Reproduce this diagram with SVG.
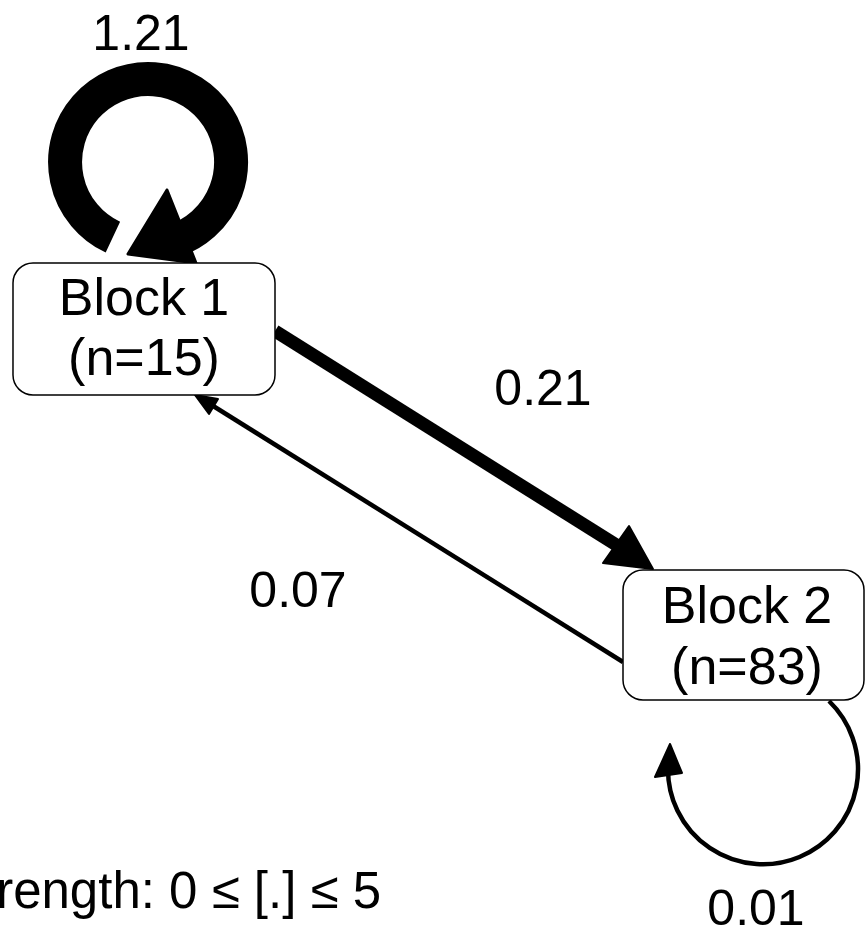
<svg xmlns="http://www.w3.org/2000/svg" width="865" height="935" viewBox="0 0 865 935">
<style>
.t{font-family:"Liberation Sans",Arial,sans-serif;font-size:52px;fill:#000;text-anchor:middle}
.lbl{font-family:"Liberation Sans",Arial,sans-serif;font-size:50px;fill:#000;text-anchor:middle}
.box{fill:#fff;stroke:#000;stroke-width:1.5}
.e{fill:none;stroke:#000}
.h{fill:#000;stroke:#000;stroke-linejoin:round}
</style>
<rect width="865" height="935" fill="#fff"/>
<g id="connectors">
  <g id="loop1">
    <path class="e" d="M 112.9 237.2 A 83 83 0 1 1 172 241.5" stroke-width="34"/>
    <polygon class="h" stroke-width="3" points="167,190 128,254 196,263"/>
  </g>
  <g id="e12">
    <line class="e" x1="275" y1="331" x2="618" y2="546" stroke-width="13"/>
    <polygon class="h" stroke-width="2" points="653,569 603,563 629,526"/>
  </g>
  <g id="e21">
    <line class="e" x1="623" y1="662" x2="210" y2="404" stroke-width="4.5"/>
    <polygon class="h" stroke-width="2" points="195,395 209,414 218,399"/>
  </g>
  <g id="loop2">
    <path class="e" d="M 829 701 A 95 95 0 1 1 668 768" stroke-width="4.5"/>
    <polygon class="h" stroke-width="2" points="670,744 655,777 682,773"/>
  </g>
</g>
<g id="block1">
  <rect class="box" x="13" y="263" width="262" height="132" rx="20"/>
  <text class="t" x="144" y="315">Block 1</text>
  <text class="t" x="144" y="375">(n=15)</text>
</g>
<g id="block2">
  <rect class="box" x="623" y="570" width="241" height="130" rx="20"/>
  <text class="t" x="747" y="623">Block 2</text>
  <text class="t" x="747" y="684">(n=83)</text>
</g>
<g id="labels">
  <text class="lbl" x="141" y="50">1.21</text>
  <text class="lbl" x="543" y="405">0.21</text>
  <text class="lbl" x="298" y="607">0.07</text>
  <text class="lbl" x="756" y="925">0.01</text>
  <text class="lbl" x="381" y="908" style="text-anchor:end;font-size:51px">rength: 0 ≤ [.] ≤ 5</text>
</g>
</svg>
